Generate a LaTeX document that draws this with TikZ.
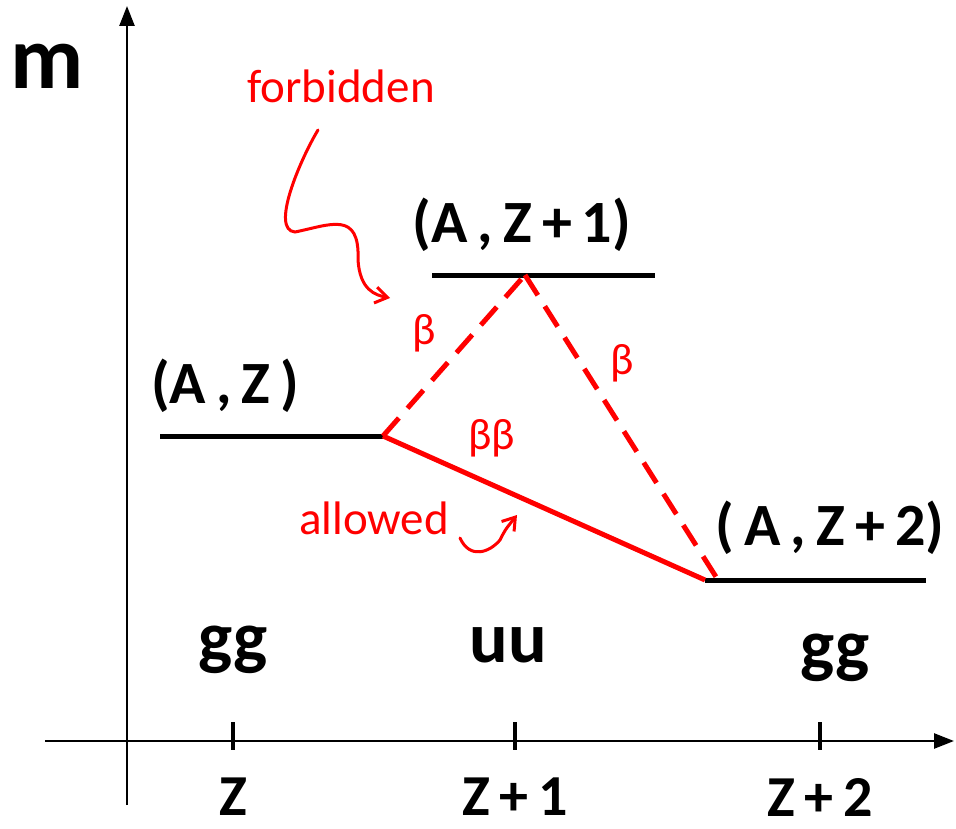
\documentclass[tikz,border=0pt]{standalone}
\usepackage{fontspec}
\setmainfont{Carlito}
\usepackage{xcolor}
\usetikzlibrary{arrows.meta}
\definecolor{figred}{RGB}{255,0,0}
\tikzstyle{axis} = [-{Triangle[length=20pt,width=15pt]}, line width=2.5pt, draw=black]
\tikzstyle{level} = [line width=5pt, draw=black]
\tikzstyle{trans} = [line width=5pt, draw=figred]
\tikzstyle{hint} = [-{Straight Barb[length=12pt,width=16pt,line width=3pt]}, line width=3pt, draw=figred, line cap=round]
\tikzstyle{hand} = [font=\fontsize{60}{62}\selectfont\bfseries]
\tikzstyle{note} = [text=figred, font=\fontsize{47}{48}\selectfont]

\begin{document}
\begin{tikzpicture}[x=1pt, y=-1pt]
    \useasboundingbox (0,0) rectangle (956,829);
    % axes
    \coordinate (o1) at (127,805);
    \coordinate (o2) at (127,6);
    \coordinate (x1) at (45,741);
    \coordinate (x2) at (954,741);
    \draw[axis] (o1) -- (o2);
    \draw[axis] (x1) -- (x2);
    \node[font=\fontsize{90}{90}\selectfont\bfseries] (mlab) at (47,66) {m};
    % ticks
    \foreach \x/\t [count=\i] in {233/Z, 515/Z\,+\,1, 820/Z\,+\,2} {
        \draw[line width=3.5pt] (\x,722) -- (\x,750);
        \node[hand, font=\fontsize{58}{60}\selectfont\bfseries] (tick\i) at (\x,797) {\t};
    }
    % levels
    \coordinate (aL) at (160,436);
    \coordinate (aR) at (383,436);
    \coordinate (bL) at (432,275);
    \coordinate (bR) at (655,275);
    \coordinate (bM) at (525,275);
    \coordinate (cL) at (705,580);
    \coordinate (cR) at (926,580);
    \coordinate (cM) at (718,580);
    \draw[level] (aL) -- (aR);
    \draw[level] (bL) -- (bR);
    \draw[level] (cL) -- (cR);
    \node[hand] (labA) at (225,386) {(A\,,\,Z\,)};
    \node[hand] (labB) at (522,225) {(A\,,\,Z\,+\,1)};
    \node[hand] (labC) at (830,528) {(\,A\,,\,Z\,+\,2)};
    \node[hand, font=\fontsize{72}{72}\selectfont\bfseries] (parA) at (233,650) {gg};
    \node[hand, font=\fontsize{72}{72}\selectfont\bfseries] (parB) at (508,645) {uu};
    \node[hand, font=\fontsize{72}{72}\selectfont\bfseries] (parC) at (835,658) {gg};
    % transitions
    \draw[trans, dash pattern=on 24pt off 13pt] (aR) -- (bM);
    \draw[trans, dash pattern=on 24pt off 13pt] (bM) -- (cM);
    \draw[trans] (aR) -- (cL);
    \node[text=figred, font=\fontsize{44}{44}\selectfont] (b1) at (424,333) {β};
    \node[text=figred, font=\fontsize{44}{44}\selectfont] (b2) at (622,363) {β};
    \node[text=figred, font=\fontsize{44}{44}\selectfont] (b3) at (492,438) {ββ};
    % remarks
    \node[note] (forb) at (341,86) {forbidden};
    \node[note] (allw) at (374,518) {allowed};
    \coordinate (fa) at (318,130);
    \coordinate (fb) at (390,298);
    \draw[hint] (fa) .. controls (300,160) and (270,230) .. (295,232)
        .. controls (330,225) and (360,210) .. (358,260)
        .. controls (360,290) and (375,295) .. (fb);
    \coordinate (aa) at (460,538);
    \coordinate (ab) at (517,515);
    \draw[hint] (aa) .. controls (470,560) and (490,552) .. (500,540)
        .. controls (505,530) .. (ab);
\end{tikzpicture}
\end{document}
